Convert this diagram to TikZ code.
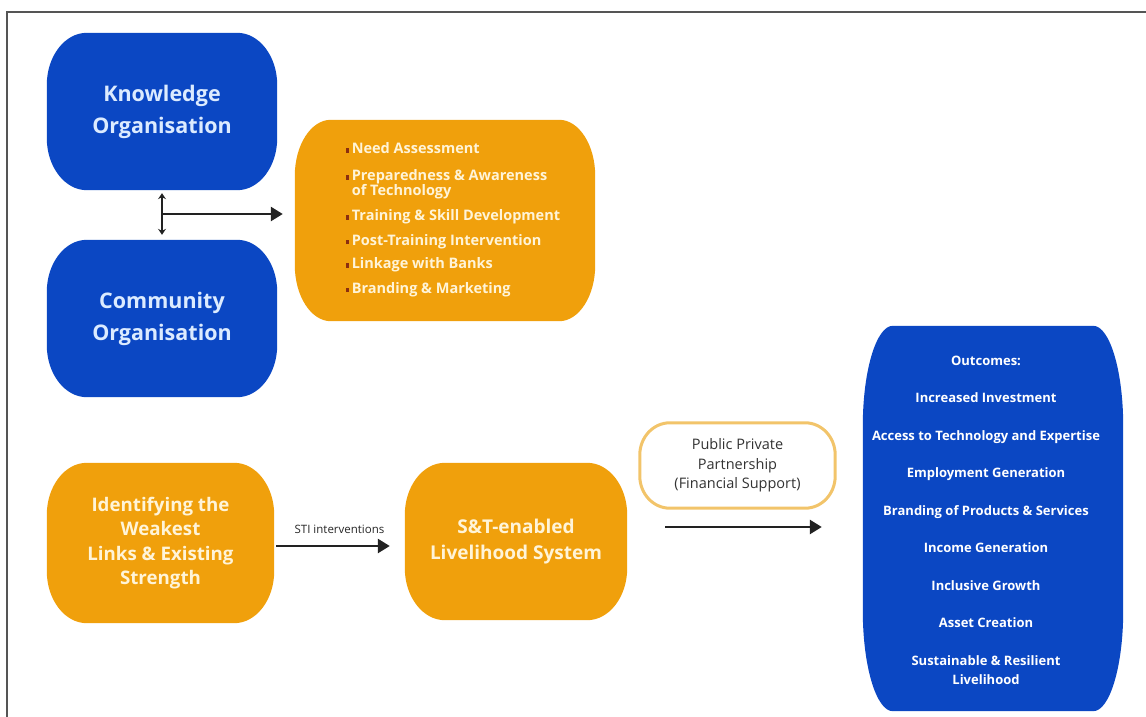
\documentclass[tikz,border=0pt]{standalone}
\usepackage{fontspec}
\setmainfont{Open Sans}
\usetikzlibrary{arrows.meta,calc,backgrounds}

\definecolor{kblue}{HTML}{0B47C3}
\definecolor{korange}{HTML}{F0A00C}
\definecolor{btext}{HTML}{DCEBFF}
\definecolor{otext}{HTML}{FFF4D8}
\definecolor{pborder}{HTML}{F2C46A}
\definecolor{bulletc}{HTML}{8A2E10}
\definecolor{framec}{HTML}{555555}
\definecolor{arrowc}{HTML}{222222}

\newcommand{\bul}{\textcolor{bulletc}{\rule[1pt]{2.6pt}{4.5pt}}}

% block outline with elliptical corners, fitted to a node's rectangle
% #1 node name, #2 path style, #3 horizontal radius, #4 vertical radius
\newcommand{\blockshape}[4]{%
  \path let \p1=(#1.north west), \p2=(#1.south east) in [#2]
    (\x1+#3,\y1) -- (\x2-#3,\y1)
    .. controls (\x2-0.45*#3,\y1) and (\x2,\y1-0.45*#4) .. (\x2,\y1-#4)
    -- (\x2,\y2+#4)
    .. controls (\x2,\y2+0.45*#4) and (\x2-0.45*#3,\y2) .. (\x2-#3,\y2)
    -- (\x1+#3,\y2)
    .. controls (\x1+0.45*#3,\y2) and (\x1,\y2+0.45*#4) .. (\x1,\y2+#4)
    -- (\x1,\y1-#4)
    .. controls (\x1,\y1-0.45*#4) and (\x1+0.45*#3,\y1) .. cycle;}

\tikzset{
  blueblock/.style={text=btext, align=center, inner sep=0pt},
  orangeblock/.style={text=otext, align=center, inner sep=0pt},
  pillbox/.style={text=black!80, align=center, inner sep=0pt},
  bluefill/.style={fill=kblue},
  orangefill/.style={fill=korange},
  pillline/.style={draw=pborder, line width=3pt, fill=white},
  bigarrow/.style={draw=arrowc, line width=2.6pt, -{Triangle[length=12pt,width=14pt]}},
  smallarrow/.style={draw=arrowc, line width=1.4pt, {Stealth[length=6pt,width=8pt]}-{Stealth[length=6pt,width=8pt]}},
}

\begin{document}
\begin{tikzpicture}[x=1pt,y=-1pt]
  \useasboundingbox (0,0) rectangle (1146,717);
  % page frame (top and left edges)
  \draw[framec, line width=1.5pt] (7,717) -- (7,12) -- (1146,12);

  % organisations
  \node[blueblock, minimum width=230pt, minimum height=157pt,
        font=\fontsize{21.5}{32}\selectfont\bfseries] (ko) at (162,111.5) {Knowledge\\Organisation};
  \node[blueblock, minimum width=230pt, minimum height=157pt,
        font=\fontsize{21.5}{32}\selectfont\bfseries] (co) at (162,318.5) {Community\\Organisation};

  % activities
  \node[orangeblock, minimum width=300pt, minimum height=201pt] (tasks) at (445,220.5) {};
  \node[anchor=west, text=otext, inner sep=0pt, font=\fontsize{14.5}{13.5}\selectfont\bfseries] (tasklist) at (346,220)
  {\begin{tabular}{@{}l@{\hspace{3pt}}l@{}}
     \bul & Need Assessment\\[12pt]
     \bul & Preparedness \& Awareness\\
          & of Technology\\[9.5pt]
     \bul & Training \& Skill Development\\[9.5pt]
     \bul & Post-Training Intervention\\[8.5pt]
     \bul & Linkage with Banks\\[9.5pt]
     \bul & Branding \& Marketing
   \end{tabular}};

  % lower row
  \node[orangeblock, minimum width=227pt, minimum height=160pt,
        font=\fontsize{18.7}{24.5}\selectfont\bfseries] (weak) at (160.5,543)
        {Identifying the\\Weakest\\Links \& Existing\\Strength};
  \node[orangeblock, minimum width=222pt, minimum height=157pt,
        font=\fontsize{19}{26}\selectfont\bfseries] (st) at (516,541.5)
        {S\&T-enabled\\Livelihood System};
  \node[pillbox, minimum width=195pt, minimum height=85pt,
        font=\fontsize{14.5}{19.5}\selectfont] (ppp) at (737.5,465.5)
        {Public Private\\Partnership\\(Financial Support)};

  % outcomes
  \node[blueblock, minimum width=260pt, minimum height=385pt] (out) at (993,518.5) {};
  \node[text=white, align=center, inner sep=0pt, font=\fontsize{13}{19}\selectfont\bfseries] (outlist) at (986,520)
  {Outcomes:\\[18.5pt]
   Increased Investment\\[18.5pt]
   Access to Technology and Expertise\\[18.5pt]
   Employment Generation\\[18.5pt]
   Branding of Products \& Services\\[18.5pt]
   Income Generation\\[18.5pt]
   Inclusive Growth\\[18.5pt]
   Asset Creation\\[18.5pt]
   Sustainable \& Resilient\\
   Livelihood};

  % block shapes behind the texts
  \begin{pgfonlayer}{background}
    \blockshape{ko}{bluefill}{40pt}{52pt}
    \blockshape{co}{bluefill}{40pt}{52pt}
    \blockshape{tasks}{orangefill}{36pt}{56pt}
    \blockshape{weak}{orangefill}{40pt}{52pt}
    \blockshape{st}{orangefill}{40pt}{52pt}
    \blockshape{out}{bluefill}{30pt}{100pt}
    \blockshape{ppp}{pillline}{30pt}{32pt}
  \end{pgfonlayer}

  % connectors
  \draw[smallarrow, shorten <=3pt, shorten >=5pt] (ko.south) -- (co.north);
  \coordinate (mid) at ($(ko.south)!0.48!(co.north)$);
  \draw[bigarrow, shorten >=12pt] (mid) -- (mid -| tasks.west);
  \draw[bigarrow, shorten <=2pt, shorten >=15pt] (weak.east |- 0,546) -- node[above=8pt, font=\fontsize{11.5}{12}\selectfont, text=black!85] (sti) {STI interventions} (st.west |- 0,546);
  \coordinate (pstart) at (665,527);
  \draw[bigarrow, shorten >=41pt] (pstart) -- (pstart -| out.west);
\end{tikzpicture}
\end{document}
